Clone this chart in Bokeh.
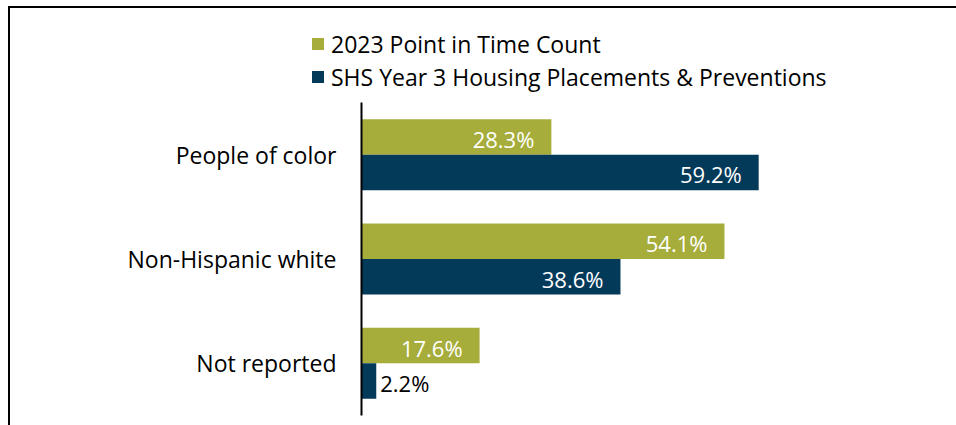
from bokeh.plotting import figure
from bokeh.layouts import column
from bokeh.models import ColumnDataSource, FactorRange, Range1d, Legend, LegendItem, LabelSet
from bokeh.transform import dodge
from bokeh.core.properties import value
from bokeh.embed import file_html
from bokeh.resources import INLINE

categories = ["People of color", "Non-Hispanic white", "Not reported"]
series_names = ["2023 Point in Time Count", "SHS Year 3 Housing Placements & Preventions"]
pit_2023 = [28.3, 54.1, 17.6]
shs_year3 = [59.2, 38.6, 2.2]

GREEN = "#A6AD3A"
BLUE = "#033A5A"
FONT = "Open Sans"
FS = "23px"
LFS = "22px"

# ---- main chart ----
p = figure(
    width=946, height=323,
    y_range=FactorRange(factors=list(reversed(categories)), range_padding=0),
    x_range=Range1d(0, 86.3),
    output_backend="svg", toolbar_location=None,
    min_border_left=351, min_border_right=16, min_border_top=0, min_border_bottom=10,
)
p.frame_align = False
p.outline_line_color = None
p.xgrid.grid_line_color = None
p.ygrid.grid_line_color = None
p.xaxis.visible = False
p.yaxis.axis_line_color = "#000000"
p.yaxis.axis_line_width = 2
p.yaxis.major_tick_line_color = None
p.yaxis.minor_tick_line_color = None
p.yaxis.major_tick_in = 0
p.yaxis.major_tick_out = 0
p.yaxis.major_label_standoff = 25
p.yaxis.major_label_text_font = FONT
p.yaxis.major_label_text_font_size = FS
p.yaxis.major_label_text_color = "#000000"

src_a = ColumnDataSource(dict(cat=categories, val=pit_2023))
src_b = ColumnDataSource(dict(cat=categories, val=shs_year3))

p.hbar(y=dodge("cat", 0.17, range=p.y_range), left=0, right="val", height=0.34,
       source=src_a, fill_color=GREEN, line_color=None)
p.hbar(y=dodge("cat", -0.17, range=p.y_range), left=0, right="val", height=0.34,
       source=src_b, fill_color=BLUE, line_color=None)

def split(vals, cats):
    inside = dict(cat=[], val=[], lab=[])
    outside = dict(cat=[], val=[], lab=[])
    for c, v in zip(cats, vals):
        d = inside if v >= 10 else outside
        d["cat"].append(c); d["val"].append(v); d["lab"].append(f"{v:.1f}%")
    return ColumnDataSource(inside), ColumnDataSource(outside)

for vals, off in ((pit_2023, 0.17), (shs_year3, -0.17)):
    ins, outs = split(vals, categories)
    p.add_layout(LabelSet(x="val", y=dodge("cat", off, range=p.y_range), text="lab", source=ins,
                          x_offset=-17, y_offset=-2, text_align="right", text_baseline="middle",
                          text_color="#FFFFFF", text_font=value(FONT), text_font_size=LFS))
    p.add_layout(LabelSet(x="val", y=dodge("cat", off, range=p.y_range), text="lab", source=outs,
                          x_offset=4, y_offset=-2, text_align="left", text_baseline="middle",
                          text_color="#000000", text_font=value(FONT), text_font_size=LFS))

# ---- legend strip (key swatches drawn by the legend itself) ----
lg = figure(width=946, height=94, x_range=Range1d(0, 1), y_range=Range1d(0, 1),
            output_backend="svg", toolbar_location=None,
            min_border_left=0, min_border_right=0, min_border_top=0, min_border_bottom=0)
lg.frame_align = False
lg.axis.visible = False
lg.grid.grid_line_color = None
lg.outline_line_color = None
key_src = ColumnDataSource(dict(y=[5.0], left=[5.0], right=[6.0]))  # off-screen key renderers
ka = lg.hbar(y="y", left="left", right="right", height=0.5, source=key_src,
             fill_color=GREEN, line_color=None)
kb = lg.hbar(y="y", left="left", right="right", height=0.5, source=key_src,
             fill_color=BLUE, line_color=None)
legend = Legend(items=[LegendItem(label=series_names[0], renderers=[ka]),
                       LegendItem(label=series_names[1], renderers=[kb])],
                location=(300, 9), orientation="vertical",
                glyph_width=15, glyph_height=15, label_height=33, spacing=0,
                label_standoff=6, padding=0, margin=0,
                border_line_color=None, background_fill_alpha=0,
                label_text_font=FONT, label_text_font_size=FS, label_text_color="#000000")
lg.add_layout(legend, "center")

layout = column(lg, p, spacing=0)
layout.styles = {"border-top": "2px solid #000", "border-left": "2px solid #000",
                 "margin-left": "8px", "margin-top": "6px"}

open("out.html", "w").write(file_html(layout, INLINE))
